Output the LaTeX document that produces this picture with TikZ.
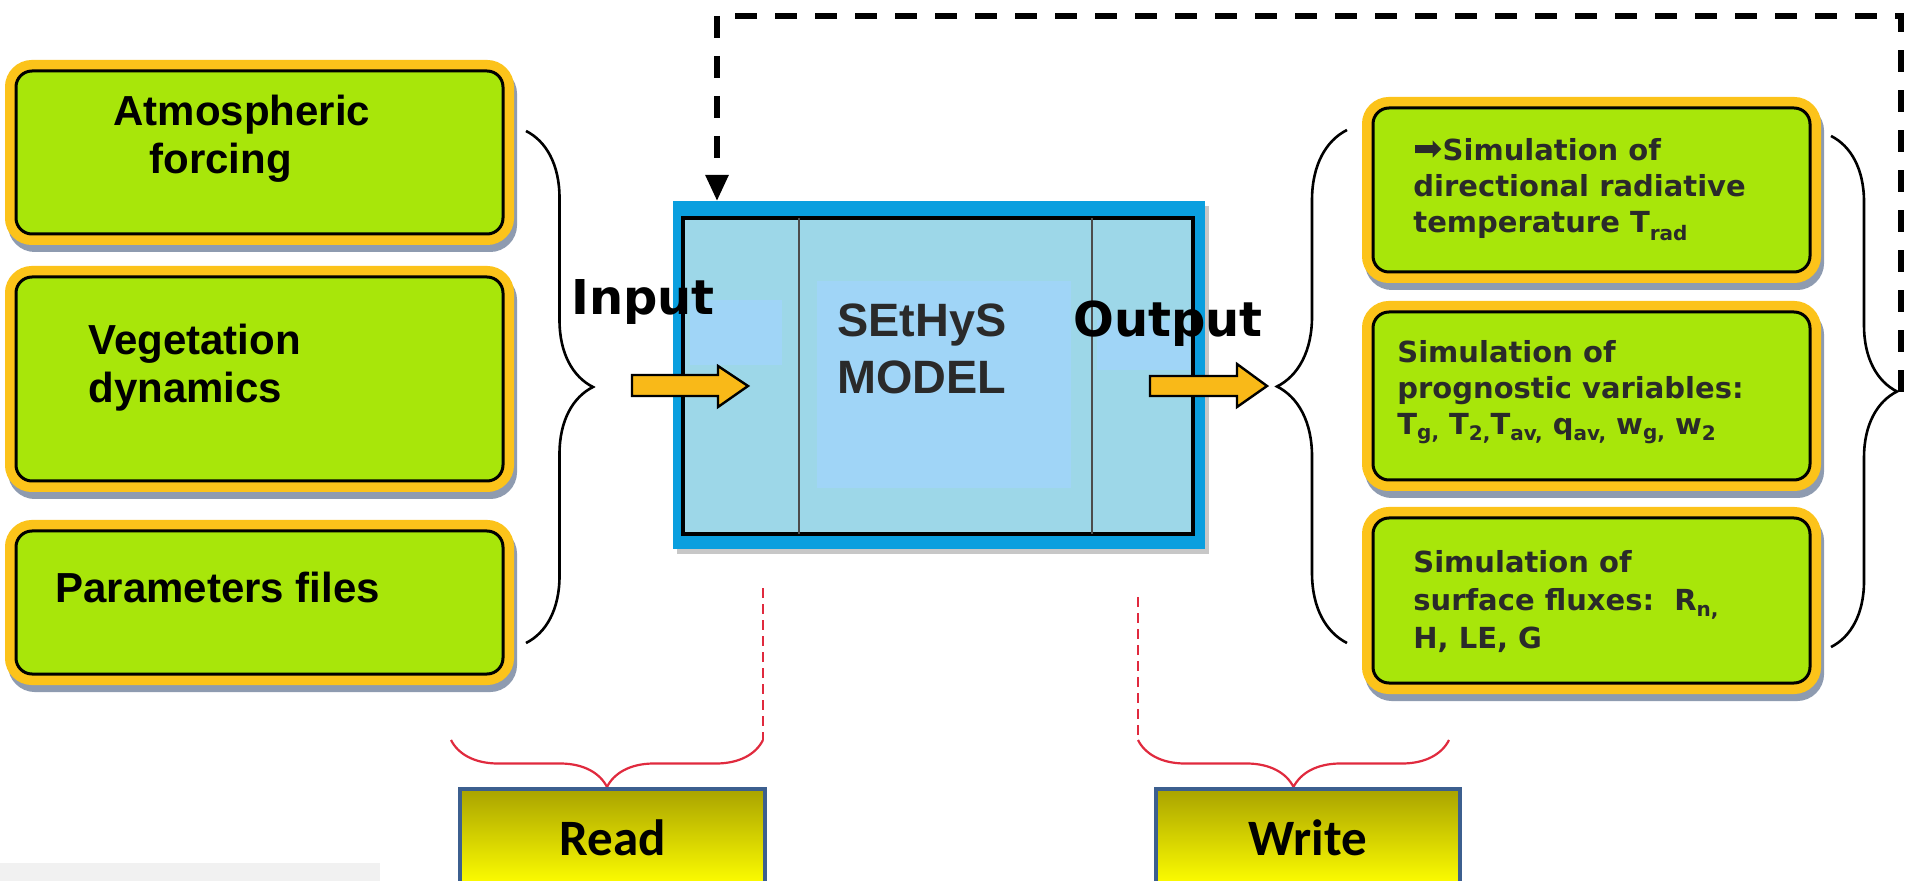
\documentclass[tikz,border=0pt]{standalone}
\usepackage{fontspec}
\setmainfont{Liberation Sans}
\newfontfamily\dejavu{DejaVu Sans}
\newfontfamily\carlito{Carlito}
\usetikzlibrary{decorations.pathreplacing,shadows,arrows.meta}

\definecolor{boxgreen}{HTML}{A8E60A}
\definecolor{boxyellow}{HTML}{FCC31A}
\definecolor{shadowc}{HTML}{8E9BB0}
\definecolor{modelblue}{HTML}{0A9FDF}
\definecolor{modelfill}{HTML}{9DD7E8}
\definecolor{modellight}{HTML}{A0D5F7}
\definecolor{arrowc}{HTML}{F9B918}
\definecolor{textdark}{HTML}{2A2A2A}
\definecolor{redc}{HTML}{E02A3E}
\definecolor{rwborder}{HTML}{3C5F8F}
\definecolor{rwtop}{HTML}{A9A300}
\definecolor{rwbottom}{HTML}{FFFF00}
\definecolor{graybar}{HTML}{F1F1F1}

\newcommand\subx[2][-3pt]{\raisebox{#1}{\fontsize{10}{10}\selectfont #2}}

\begin{document}
\begin{tikzpicture}[x=0.5pt,y=-0.5pt,
  gbox/.style={draw=black, line width=1.5pt, fill=boxgreen, rounded corners=8pt,
    inner sep=0pt, outer sep=0pt,
    drop shadow={shadow xshift=1.5pt, shadow yshift=-3.5pt, fill=shadowc,
      draw=shadowc, line width=11pt, opacity=1},
    preaction={draw=boxyellow, line width=11pt}},
  ltext/.style={anchor=base west, inner sep=0pt, text=black,
    font=\bfseries\fontsize{21}{24}\selectfont},
  rtext/.style={anchor=base west, inner sep=0pt, text=textdark,
    font=\dejavu\bfseries\fontsize{14.5}{18}\selectfont},
  bigword/.style={anchor=base west, inner sep=0pt, text=black,
    font=\dejavu\bfseries\fontsize{24}{28}\selectfont},
  curly/.style={decorate, decoration={brace, amplitude=#1}, draw=black, line width=1.3pt},
  redcurly/.style={decorate, decoration={brace, amplitude=#1}, draw=redc, line width=1.1pt},
  reddash/.style={draw=redc, line width=1pt, dash pattern=on 5pt off 3pt},
  blockarrow/.style={fill=arrowc, draw=black, line width=1.2pt, line join=miter},
  feedback/.style={draw=black, line width=2.8pt, dash pattern=on 11pt off 9pt,
    -{Triangle[length=13pt,width=11pt]}},
  rwbox/.style={draw=rwborder, line width=2.2pt, top color=rwtop, bottom color=rwbottom,
    inner sep=0pt, outer sep=0pt, text=black,
    font=\carlito\bfseries\fontsize{25.5}{26}\selectfont},
  divider/.style={draw=black!70, line width=0.8pt}
]
\useasboundingbox (0,0) rectangle (1905,881);
\clip (0,0) rectangle (1905,881);

% light gray band bottom-left
\fill[graybar] (0,863) rectangle (380,881);

% ---------- left input boxes ----------
\node[gbox, minimum width=243.5pt, minimum height=81.5pt] (atm) at (259.5,152.5) {};
\node[gbox, minimum width=243.5pt, minimum height=102pt] (veg) at (259.5,379) {};
\node[gbox, minimum width=243.5pt, minimum height=71.5pt] (par) at (259.5,602.5) {};

\node[ltext] (atmt) at (113,126) {\begin{tabular}[t]{@{}l@{}}Atmospheric\\\hspace*{18pt}forcing\end{tabular}};
\node[ltext] (vegt) at (88,355) {\begin{tabular}[t]{@{}l@{}}Vegetation\\dynamics\end{tabular}};
\node[ltext] (part) at (55,603) {Parameters files};

% left brace
\draw[curly=33.5pt] (526,131) -- (526,643);

% ---------- model box ----------
\node[fill=modelblue, inner sep=0pt, outer sep=0pt, minimum width=266pt, minimum height=174pt,
  drop shadow={shadow xshift=2pt, shadow yshift=-2.5pt, fill=black!22, opacity=1}] (model) at (939,375) {};
\node[draw=black, line width=2pt, fill=modelfill, inner sep=0pt, outer sep=0pt,
  minimum width=255pt, minimum height=158pt] (modelin) at (938,376) {};
\fill[modellight] (817,281) rectangle (1071,488);
\fill[modellight] (690,300) rectangle (782,365);
\fill[modellight] (1097,320) rectangle (1190,370);
\draw[divider] (799,218) -- (799,534);
\draw[divider] (1092,218) -- (1092,534);

\node[anchor=base west, inner sep=0pt, text=textdark,
  font=\bfseries\fontsize{23.4}{28.5}\selectfont] (mtext) at (837,337)
  {\begin{tabular}[t]{@{}l@{}}SEtHyS\\MODEL\end{tabular}};

\node[bigword] (input) at (571,315) {Input};
\node[bigword] (output) at (1073,337) {Output};

% block arrows
\draw[blockarrow] (632,375) -- (718,375) -- (718,366) -- (748,386) -- (718,407) -- (718,396) -- (632,396) -- cycle;
\draw[blockarrow] (1150,376) -- (1237,376) -- (1237,364) -- (1267,386) -- (1237,407) -- (1237,396) -- (1150,396) -- cycle;

% ---------- right output boxes ----------
\node[gbox, minimum width=218.5pt, minimum height=82pt] (trad) at (1591.5,190) {};
\node[gbox, minimum width=218.5pt, minimum height=84pt] (prog) at (1591.5,396) {};
\node[gbox, minimum width=218.5pt, minimum height=82.5pt] (flux) at (1591.5,600.5) {};

\node[rtext] (tradt) at (1413,161) {\begin{tabular}[t]{@{}l@{}}{\dejavu\mdseries\fontsize{17.5}{18}\selectfont ➡}Simulation of\\directional radiative\\temperature T\subx[-4pt]{rad}\end{tabular}};
\node[rtext] (progt) at (1397,363) {\begin{tabular}[t]{@{}l@{}}Simulation of\\prognostic variables:\\T\subx[-2.5pt]{g,} T\subx{2,}T\subx{av,} q\subx{av,} w\subx[-2.5pt]{g,} w\subx{2}\end{tabular}};
\node[rtext, font=\dejavu\bfseries\fontsize{14.5}{18.8}\selectfont] (fluxt) at (1413,573) {\begin{tabular}[t]{@{}l@{}}Simulation of\\surface fluxes:\ \ R\subx{n,}\\H, LE, G\end{tabular}};

% right braces
\draw[curly=35pt] (1347,643) -- (1347,130);
\draw[curly=33pt] (1831,136) -- (1831,647);
\coordinate (rbtip) at (1901,392);

% feedback dashed line
\coordinate (fb) at (717,16);
\draw[feedback] (rbtip) |- (fb) -- (fb |- model.north);

% ---------- read / write ----------
\draw[reddash] (763,588) -- (763,740);
\draw[reddash] (1138,597) -- (1138,740);
\draw[redcurly=23.5pt] (763,740) -- (451,740);
\draw[redcurly=23.5pt] (1449,740) -- (1138,740);

\node[rwbox, minimum width=152.5pt, minimum height=48.5pt] (read) at (612.5,837.5) {Read};
\node[rwbox, minimum width=152pt, minimum height=48.5pt] (write) at (1308,837.5) {Write};
\end{tikzpicture}
\end{document}
